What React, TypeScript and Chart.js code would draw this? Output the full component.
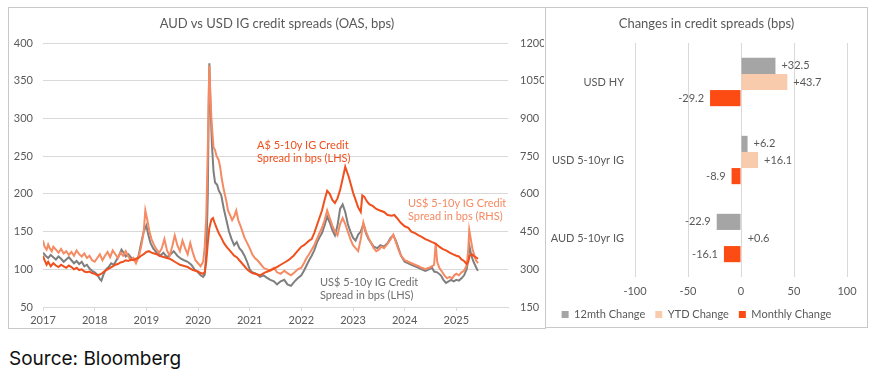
import React, { useEffect, useRef } from "react";
import { Chart, registerables } from "chart.js";
Chart.register(...registerables);

// ---------- Left chart data (decimal years) ----------
const yearTicks = [2017, 2018, 2019, 2020, 2021, 2022, 2023, 2024, 2025];

// A$ 5-10y IG credit spread (LHS, bps)
const audDates = [
  2017.00, 2017.03, 2017.07, 2017.10, 2017.15, 2017.20, 2017.25, 2017.30, 2017.35, 2017.40,
  2017.45, 2017.50, 2017.55, 2017.60, 2017.65, 2017.70, 2017.75, 2017.80, 2017.85, 2017.90,
  2017.95, 2018.00, 2018.05, 2018.10, 2018.15, 2018.20, 2018.25, 2018.30, 2018.35, 2018.40,
  2018.45, 2018.50, 2018.55, 2018.60, 2018.65, 2018.70, 2018.75, 2018.80, 2018.85, 2018.90,
  2018.95, 2019.00, 2019.05, 2019.10, 2019.15, 2019.20, 2019.25, 2019.30, 2019.35, 2019.40,
  2019.45, 2019.50, 2019.55, 2019.60, 2019.65, 2019.70, 2019.75, 2019.80, 2019.85, 2019.90,
  2019.95, 2020.00, 2020.05, 2020.10, 2020.13, 2020.16, 2020.19, 2020.22, 2020.26, 2020.29,
  2020.32, 2020.36, 2020.40, 2020.45, 2020.50, 2020.55, 2020.60, 2020.65, 2020.70, 2020.75,
  2020.80, 2020.85, 2020.90, 2020.95, 2021.00, 2021.05, 2021.10, 2021.15, 2021.20, 2021.25,
  2021.30, 2021.35, 2021.40, 2021.45, 2021.50, 2021.55, 2021.60, 2021.65, 2021.70, 2021.75,
  2021.80, 2021.85, 2021.90, 2021.95, 2022.00, 2022.05, 2022.10, 2022.15, 2022.20, 2022.25,
  2022.30, 2022.35, 2022.40, 2022.45, 2022.50, 2022.55, 2022.60, 2022.65, 2022.70, 2022.75,
  2022.80, 2022.85, 2022.88, 2022.92, 2022.96, 2023.00, 2023.05, 2023.10, 2023.15, 2023.18,
  2023.22, 2023.27, 2023.32, 2023.38, 2023.45, 2023.52, 2023.60, 2023.67, 2023.75, 2023.80,
  2023.85, 2023.92, 2024.00, 2024.07, 2024.13, 2024.20, 2024.27, 2024.33, 2024.40, 2024.47,
  2024.53, 2024.60, 2024.67, 2024.73, 2024.80, 2024.87, 2024.93, 2025.00, 2025.05, 2025.10,
  2025.15, 2025.20, 2025.23, 2025.26, 2025.30, 2025.35, 2025.40, 2025.42,
];
const audValues = [
  118, 112, 106, 110, 104, 108, 105, 103, 106, 104,
  102, 105, 103, 100, 102, 99, 100, 97, 96, 97,
  95, 94, 92, 93, 95, 98, 100, 102, 104, 106,
  107, 109, 110, 112, 111, 113, 112, 114, 115, 118,
  120, 123, 124, 122, 121, 120, 118, 117, 116, 115,
  114, 112, 110, 108, 106, 105, 104, 103, 101, 99,
  98, 97, 95, 94, 96, 110, 135, 155, 166, 168,
  162, 155, 148, 142, 135, 130, 126, 122, 118, 116,
  112, 108, 104, 100, 97, 95, 94, 93, 92, 94,
  96, 97, 99, 100, 102, 104, 106, 108, 110, 112,
  115, 118, 122, 126, 130, 132, 135, 138, 140, 148,
  158, 168, 178, 192, 204, 200, 192, 188, 194, 205,
  220, 236, 230, 222, 212, 202, 192, 182, 176, 198,
  196, 190, 186, 184, 180, 178, 176, 172, 171, 172,
  168, 162, 157, 155, 150, 148, 145, 143, 140, 138,
  136, 134, 130, 127, 125, 122, 120, 118, 117, 113,
  111, 107, 110, 118, 120, 117, 115, 114,
];

// US$ 5-10y IG credit spread (RHS, bps)
const usdRhsDates = [
  2017.00, 2017.03, 2017.07, 2017.10, 2017.13, 2017.17, 2017.20, 2017.25, 2017.30, 2017.35,
  2017.40, 2017.45, 2017.50, 2017.55, 2017.60, 2017.65, 2017.70, 2017.75, 2017.80, 2017.85,
  2017.90, 2017.95, 2018.00, 2018.05, 2018.10, 2018.15, 2018.20, 2018.25, 2018.30, 2018.35,
  2018.40, 2018.45, 2018.50, 2018.55, 2018.60, 2018.65, 2018.70, 2018.75, 2018.80, 2018.85,
  2018.90, 2018.95, 2018.98, 2019.02, 2019.06, 2019.10, 2019.15, 2019.20, 2019.25, 2019.30,
  2019.35, 2019.40, 2019.45, 2019.50, 2019.55, 2019.60, 2019.65, 2019.70, 2019.75, 2019.80,
  2019.85, 2019.90, 2019.95, 2020.00, 2020.05, 2020.10, 2020.13, 2020.16, 2020.19, 2020.21,
  2020.22, 2020.24, 2020.26, 2020.28, 2020.30, 2020.33, 2020.36, 2020.40, 2020.43, 2020.46,
  2020.50, 2020.55, 2020.58, 2020.62, 2020.66, 2020.70, 2020.74, 2020.78, 2020.82, 2020.86,
  2020.90, 2020.95, 2021.00, 2021.05, 2021.10, 2021.15, 2021.20, 2021.27, 2021.33, 2021.40,
  2021.47, 2021.53, 2021.60, 2021.67, 2021.73, 2021.80, 2021.87, 2021.93, 2022.00, 2022.05,
  2022.10, 2022.15, 2022.20, 2022.25, 2022.30, 2022.35, 2022.40, 2022.45, 2022.50, 2022.55,
  2022.60, 2022.65, 2022.70, 2022.75, 2022.80, 2022.85, 2022.90, 2022.95, 2023.00, 2023.05,
  2023.10, 2023.15, 2023.20, 2023.25, 2023.30, 2023.35, 2023.40, 2023.45, 2023.50, 2023.55,
  2023.60, 2023.67, 2023.73, 2023.78, 2023.83, 2023.88, 2023.93, 2024.00, 2024.07, 2024.13,
  2024.20, 2024.27, 2024.33, 2024.40, 2024.47, 2024.53, 2024.57, 2024.60, 2024.63, 2024.67,
  2024.72, 2024.77, 2024.82, 2024.87, 2024.92, 2024.96, 2025.00, 2025.05, 2025.10, 2025.15,
  2025.20, 2025.23, 2025.25, 2025.28, 2025.31, 2025.35, 2025.38, 2025.42,
];
const usdRhsValues = [
  414, 390, 378, 399, 384, 372, 390, 378, 366, 381,
  363, 372, 357, 369, 354, 375, 360, 351, 363, 345,
  354, 336, 330, 345, 360, 336, 354, 369, 348, 375,
  360, 345, 366, 354, 372, 351, 336, 345, 324, 348,
  390, 450, 534, 495, 450, 420, 396, 378, 366, 384,
  420, 375, 354, 390, 435, 396, 372, 414, 384, 360,
  405, 366, 336, 324, 312, 330, 390, 510, 780, 1020,
  1110, 990, 900, 840, 786, 774, 750, 735, 705, 660,
  615, 570, 534, 516, 495, 510, 534, 495, 474, 450,
  426, 405, 384, 360, 345, 336, 324, 306, 300, 294,
  306, 288, 282, 294, 285, 276, 288, 300, 306, 324,
  345, 360, 378, 396, 420, 444, 465, 495, 534, 504,
  474, 450, 435, 480, 504, 480, 450, 420, 396, 384,
  372, 420, 486, 450, 426, 405, 384, 372, 378, 390,
  384, 402, 420, 438, 408, 378, 354, 336, 330, 324,
  318, 312, 306, 300, 306, 312, 318, 402, 330, 306,
  291, 276, 264, 270, 264, 276, 282, 276, 288, 294,
  315, 375, 456, 420, 384, 354, 336, 324,
];

// US$ 5-10y IG credit spread (LHS, bps)
const usdLhsDates = [
  2017.00, 2017.05, 2017.10, 2017.15, 2017.20, 2017.25, 2017.30, 2017.35, 2017.40, 2017.45,
  2017.50, 2017.55, 2017.60, 2017.65, 2017.70, 2017.75, 2017.80, 2017.85, 2017.90, 2017.95,
  2018.00, 2018.05, 2018.10, 2018.13, 2018.17, 2018.22, 2018.27, 2018.32, 2018.37, 2018.42,
  2018.47, 2018.52, 2018.56, 2018.60, 2018.65, 2018.70, 2018.75, 2018.80, 2018.85, 2018.90,
  2018.95, 2019.00, 2019.04, 2019.08, 2019.13, 2019.20, 2019.27, 2019.33, 2019.40, 2019.47,
  2019.53, 2019.60, 2019.67, 2019.73, 2019.80, 2019.87, 2019.93, 2020.00, 2020.05, 2020.10,
  2020.13, 2020.16, 2020.19, 2020.21, 2020.22, 2020.24, 2020.27, 2020.30, 2020.33, 2020.37,
  2020.40, 2020.45, 2020.50, 2020.55, 2020.60, 2020.65, 2020.70, 2020.75, 2020.80, 2020.85,
  2020.90, 2020.95, 2021.00, 2021.05, 2021.10, 2021.15, 2021.20, 2021.27, 2021.33, 2021.40,
  2021.47, 2021.53, 2021.60, 2021.67, 2021.73, 2021.80, 2021.87, 2021.93, 2022.00, 2022.05,
  2022.10, 2022.15, 2022.20, 2022.25, 2022.30, 2022.35, 2022.40, 2022.45, 2022.50, 2022.55,
  2022.60, 2022.65, 2022.70, 2022.75, 2022.80, 2022.85, 2022.90, 2022.95, 2023.00, 2023.05,
  2023.10, 2023.15, 2023.20, 2023.25, 2023.30, 2023.35, 2023.40, 2023.47, 2023.53, 2023.60,
  2023.67, 2023.73, 2023.78, 2023.83, 2023.88, 2023.93, 2024.00, 2024.07, 2024.13, 2024.20,
  2024.27, 2024.33, 2024.40, 2024.47, 2024.53, 2024.57, 2024.63, 2024.70, 2024.75, 2024.80,
  2024.85, 2024.90, 2024.95, 2025.00, 2025.05, 2025.10, 2025.15, 2025.20, 2025.23, 2025.25,
  2025.28, 2025.32, 2025.36, 2025.40, 2025.42,
];
const usdLhsValues = [
  122, 118, 115, 119, 116, 113, 117, 114, 110, 113,
  116, 112, 108, 111, 107, 110, 104, 106, 101, 98,
  96, 93, 87, 85, 93, 100, 103, 108, 106, 112,
  118, 126, 122, 117, 120, 116, 113, 111, 118, 135,
  150, 158, 145, 135, 128, 122, 118, 122, 116, 120,
  124, 118, 114, 112, 110, 106, 100, 96, 92, 90,
  93, 120, 200, 330, 373, 320, 265, 230, 215, 212,
  205, 198, 180, 165, 150, 140, 132, 136, 128, 124,
  118, 110, 100, 96, 95, 93, 90, 92, 89, 86,
  84, 80, 84, 86, 80, 78, 84, 88, 92, 98,
  105, 112, 118, 125, 135, 142, 148, 158, 170, 162,
  152, 145, 158, 180, 186, 176, 160, 150, 142, 138,
  146, 150, 160, 148, 140, 135, 130, 128, 132, 130,
  135, 142, 145, 138, 128, 118, 110, 108, 106, 104,
  102, 100, 98, 100, 102, 97, 96, 92, 86, 82,
  84, 86, 84, 86, 85, 88, 92, 100, 112, 132,
  122, 112, 106, 100, 98,
];

// ---------- Right chart data ----------
const barCategories = ["USD HY", "USD 5-10yr IG", "AUD 5-10yr IG"];
const change12m = [32.5, 6.2, -22.9];
const changeYtd = [43.7, 16.1, 0.6];
const changeMonthly = [-29.2, -8.9, -16.1];

const FONT = "Lato, 'Open Sans', sans-serif";
const TEXT = "#595959";
const GRID = "#d9d9d9";
const RED = "#f0501e";
const SALMON = "#f58a63";
const GREY_LINE = "#7f7f7f";

function toPoints(dates: number[], values: number[]) {
  return dates.map((d, i) => ({ x: d, y: values[i] }));
}

const barValueLabels = {
  id: "barValueLabels",
  afterDatasetsDraw(chart: any) {
    const ctx = chart.ctx;
    ctx.save();
    ctx.font = `11px ${FONT}`;
    ctx.fillStyle = TEXT;
    ctx.textBaseline = "middle";
    chart.data.datasets.forEach((ds: any, di: number) => {
      const meta = chart.getDatasetMeta(di);
      meta.data.forEach((el: any, i: number) => {
        const v = ds.data[i] as number;
        const txt = (v > 0 ? "+" : "") + v.toFixed(1);
        const { x, y } = el.getProps(["x", "y"], true);
        if (v >= 0) {
          ctx.textAlign = "left";
          ctx.fillText(txt, x + 6, y);
        } else {
          ctx.textAlign = "right";
          ctx.fillText(txt, x - 6, y);
        }
      });
    });
    ctx.restore();
  },
};

function LeftChart() {
  const ref = useRef<HTMLCanvasElement>(null);
  useEffect(() => {
    let chart: Chart | null = null;
    let cancelled = false;
    const make = () => {
      if (cancelled || !ref.current) return;
      chart = new Chart(ref.current, {
        type: "line",
        data: {
          datasets: [
            { label: "A$ 5-10y IG Credit Spread in bps (LHS)", data: toPoints(audDates, audValues), borderColor: RED, yAxisID: "y" },
            { label: "US$ 5-10y IG Credit Spread in bps (RHS)", data: toPoints(usdRhsDates, usdRhsValues), borderColor: SALMON, yAxisID: "y2" },
            { label: "US$ 5-10y IG Credit Spread in bps (LHS)", data: toPoints(usdLhsDates, usdLhsValues), borderColor: GREY_LINE, yAxisID: "y" },
          ],
        },
        options: {
          responsive: false,
          animation: false,
          maintainAspectRatio: false,
          layout: { padding: { top: 35, left: 0, right: 0, bottom: 0 } },
          plugins: { legend: { display: false }, tooltip: { enabled: false }, title: { display: false } },
          elements: { point: { radius: 0 }, line: { borderWidth: 2, tension: 0 } },
          scales: {
            x: {
              type: "linear",
              min: 2017,
              max: 2026,
              afterFit: (s: any) => { s.height = 20; },
              afterBuildTicks: (s: any) => { s.ticks = yearTicks.map((v) => ({ value: v })); },
              ticks: { font: { family: FONT, size: 11 }, color: TEXT, padding: 3, maxRotation: 0, autoSkip: false, callback: (v: any) => String(v) },
              grid: { drawOnChartArea: false, color: GRID, tickLength: 4 },
              border: { color: GRID },
            },
            y: {
              position: "left",
              min: 50,
              max: 400,
              afterFit: (s: any) => { s.width = 34; },
              ticks: { stepSize: 50, padding: 10, font: { family: FONT, size: 11 }, color: TEXT, callback: (v: any) => String(v) },
              grid: { color: GRID, drawTicks: false },
              border: { display: false },
            },
            y2: {
              position: "right",
              min: 150,
              max: 1200,
              afterFit: (s: any) => { s.width = 36; },
              ticks: { stepSize: 150, padding: 12, font: { family: FONT, size: 11 }, color: TEXT, callback: (v: any) => String(v) },
              grid: { drawOnChartArea: false, drawTicks: false },
              border: { display: false },
            },
          },
        } as any,
      });
    };
    (document as any).fonts ? (document as any).fonts.load(`11px Lato`).then(make, make) : make();
    return () => { cancelled = true; if (chart) chart.destroy(); };
  }, []);
  return <canvas ref={ref} width={535} height={319} style={{ position: "absolute", left: 9, top: 8, width: 535, height: 319 }} />;
}

function RightChart() {
  const ref = useRef<HTMLCanvasElement>(null);
  useEffect(() => {
    let chart: Chart | null = null;
    let cancelled = false;
    const make = () => {
      if (cancelled || !ref.current) return;
      chart = new Chart(ref.current, {
        type: "bar",
        data: {
          labels: barCategories,
          datasets: [
            { label: "12mth Change", data: change12m, backgroundColor: "#a5a5a5" },
            { label: "YTD Change", data: changeYtd, backgroundColor: "#f8cbad" },
            { label: "Monthly Change", data: changeMonthly, backgroundColor: "#fc4c14" },
          ],
        },
        options: {
          indexAxis: "y",
          responsive: false,
          animation: false,
          maintainAspectRatio: false,
          layout: { padding: { top: 35, right: 20, left: 0, bottom: -3 } },
          datasets: { bar: { categoryPercentage: 0.62, barPercentage: 1 } },
          plugins: {
            tooltip: { enabled: false },
            legend: {
              position: "bottom",
              labels: { boxWidth: 7, boxHeight: 7, padding: 10, font: { family: FONT, size: 11 }, color: TEXT },
            },
          },
          scales: {
            x: {
              min: -100,
              max: 100,
              afterFit: (s: any) => { s.height = 22; },
              ticks: { stepSize: 50, padding: 8, font: { family: FONT, size: 11 }, color: TEXT },
              grid: { color: GRID, drawTicks: false },
              border: { display: false },
            },
            y: {
              afterFit: (s: any) => { s.width = 89; },
              ticks: { padding: 11, font: { family: FONT, size: 11 }, color: TEXT },
              grid: { display: false, drawTicks: false },
              border: { display: false },
            },
          },
        } as any,
        plugins: [barValueLabels as any],
      });
    };
    (document as any).fonts ? (document as any).fonts.load(`11px Lato`).then(make, make) : make();
    return () => { cancelled = true; if (chart) chart.destroy(); };
  }, []);
  return <canvas ref={ref} width={321} height={319} style={{ position: "absolute", left: 546, top: 8, width: 321, height: 319 }} />;
}

const noteStyle: React.CSSProperties = {
  position: "absolute",
  fontFamily: FONT,
  fontSize: 11,
  lineHeight: "13px",
  whiteSpace: "nowrap",
};

export default function App() {
  return (
    <div style={{ position: "absolute", left: 0, top: 0, width: 879, height: 376, background: "#fff", overflow: "hidden" }}>
      <div style={{ position: "absolute", left: 8, top: 7, width: 538, height: 322, border: "1px solid #c9c9c9", boxSizing: "border-box" }} />
      <div style={{ position: "absolute", left: 545, top: 7, width: 323, height: 321, border: "1px solid #c9c9c9", boxSizing: "border-box" }} />
      <LeftChart />
      <RightChart />
      <div style={{ position: "absolute", left: 8, width: 538, top: 17, textAlign: "center", fontFamily: FONT, fontSize: 13, lineHeight: "13px", color: TEXT }}>
        AUD vs USD IG credit spreads (OAS, bps)
      </div>
      <div style={{ position: "absolute", left: 545, width: 323, top: 17, textAlign: "center", fontFamily: FONT, fontSize: 13, lineHeight: "13px", color: TEXT }}>
        Changes in credit spreads (bps)
      </div>
      <div style={{ ...noteStyle, left: 257, top: 138, color: RED }}>
        A$ 5-10y IG Credit<br />Spread in bps (LHS)
      </div>
      <div style={{ ...noteStyle, left: 408, top: 196, color: SALMON }}>
        US$ 5-10y IG Credit<br />Spread in bps (RHS)
      </div>
      <div style={{ ...noteStyle, left: 320, top: 275, color: "#6f6f6f" }}>
        US$ 5-10y IG Credit<br />Spread in bps (LHS)
      </div>
      <div style={{ position: "absolute", left: 9, top: 349, fontFamily: "Inter, 'Open Sans', sans-serif", fontSize: 19, lineHeight: "19px", color: "#111" }}>
        Source: Bloomberg
      </div>
    </div>
  );
}
